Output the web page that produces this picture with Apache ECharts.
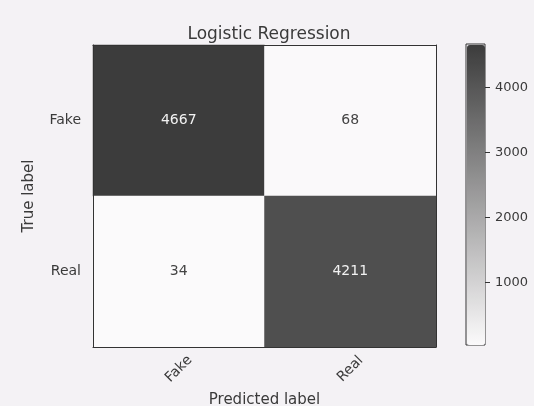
<!DOCTYPE html>
<html>
<head>
<meta charset="utf-8">
<script src="https://cdn.jsdelivr.net/npm/echarts@6/dist/echarts.min.js"></script>
<style>
  html, body { margin: 0; padding: 0; background: #f4f2f5; }
  #chart { width: 534px; height: 406px; }
</style>
</head>
<body>
<div id="chart"></div>
<script>
// 混淆矩阵数据
const labels = ['Fake', 'Real']
const rowFake = [4667, 68]
const rowReal = [34, 4211]
const barTicks = [1000, 2000, 3000, 4000]

const rows = [rowFake, rowReal]
const cells = []
rows.forEach((row, yi) => {
  row.forEach((v, xi) => cells.push([xi, yi, v]))
})
const vMin = Math.min(...rowFake, ...rowReal)
const vMax = Math.max(...rowFake, ...rowReal)

const chart = echarts.init(document.getElementById('chart'))
const font = 'DejaVu Sans'
const ink = '#3a3a3a'
const option = {
  backgroundColor: '#f4f2f5',
  textStyle: { fontFamily: font },
  title: {
    text: 'Logistic Regression',
    left: 264,
    top: 21,
    textAlign: 'center',
    textStyle: { fontFamily: font, fontSize: 17, fontWeight: 'normal', color: ink }
  },
  grid: [
    { left: 93, top: 45, width: 343, height: 302, outerBoundsMode: 'none' },
    // 颜色条边框
    { left: 466, top: 44, width: 19, height: 301, outerBoundsMode: 'none', show: true, borderColor: '#333', borderWidth: 1, backgroundColor: 'transparent' }
  ],
  xAxis: [
    {
      type: 'category', gridIndex: 0, data: labels, z: 5,
      name: 'Predicted label', nameLocation: 'middle', nameGap: 45,
      nameTextStyle: { fontSize: 15, color: ink },
      axisLine: { lineStyle: { color: '#333' } },
      axisTick: { alignWithLabel: true, length: 4, lineStyle: { color: '#333' } },
      axisLabel: { rotate: 45, fontSize: 14, color: ink, margin: 22, align: 'center', verticalAlign: 'middle' },
      splitLine: { show: false }
    },
    {
      type: 'category', gridIndex: 0, data: labels, position: 'top', z: 5,
      axisLine: { lineStyle: { color: '#333' } },
      axisTick: { show: false }, axisLabel: { show: false }
    },
    {
      type: 'value', gridIndex: 1, show: false
    }
  ],
  yAxis: [
    {
      type: 'category', gridIndex: 0, data: labels, inverse: true, z: 5,
      name: 'True label', nameLocation: 'middle', nameGap: 56,
      nameTextStyle: { fontSize: 15, color: ink },
      axisLine: { lineStyle: { color: '#333' } },
      axisTick: { alignWithLabel: true, length: 4, lineStyle: { color: '#333' } },
      axisLabel: { fontSize: 14, color: ink, margin: 12 },
      splitLine: { show: false }
    },
    {
      type: 'category', gridIndex: 0, data: labels, inverse: true, position: 'right', z: 5,
      axisLine: { lineStyle: { color: '#333' } },
      axisTick: { show: false }, axisLabel: { show: false }
    },
    {
      // 颜色条刻度
      type: 'value', gridIndex: 1, position: 'right', min: vMin, max: vMax, z: 6,
      axisLine: { show: false, onZero: false },
      axisTick: { show: true, length: 5, customValues: barTicks, lineStyle: { color: '#333' } },
      axisLabel: { fontSize: 13, color: ink, margin: 10, customValues: barTicks, formatter: (v) => String(v) },
      splitLine: { show: false }
    }
  ],
  visualMap: {
    type: 'continuous',
    min: vMin,
    max: vMax,
    seriesIndex: 0,
    calculable: false,
    left: 467,
    top: 45,
    itemWidth: 18,
    itemHeight: 300,
    padding: 0,
    showLabel: false,
    inRange: { color: ['#fbfafb', '#3c3c3c'] }
  },
  series: [
    {
      type: 'heatmap',
      xAxisIndex: 0,
      yAxisIndex: 0,
      data: cells.map((c) => ({
        value: c,
        // 深色格子用白色文字
        label: { color: c[2] > (vMax + vMin) / 2 ? '#f2f2f2' : '#444' }
      })),
      label: {
        show: true,
        fontSize: 14,
        fontFamily: font,
        formatter: (p) => String(p.value[2])
      },
      emphasis: { disabled: true }
    }
  ]
}
chart.setOption(option)
</script>
</body>
</html>
